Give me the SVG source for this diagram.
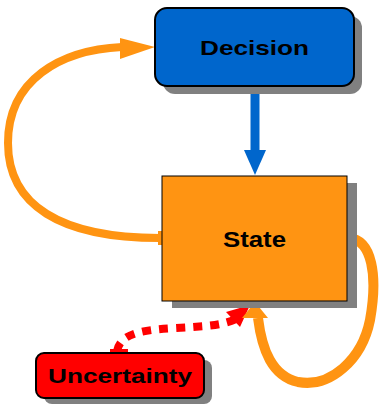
<svg xmlns="http://www.w3.org/2000/svg" width="379" height="404" viewBox="0 0 379 404">
<style>
.lbl{font-family:"Liberation Sans",Arial,sans-serif;font-weight:bold;fill:#000;text-anchor:middle}
.shadow{fill:#808080}
.orange{fill:none;stroke:#FF9412;stroke-width:8}
</style>
<rect width="379" height="404" fill="#fff"/>
<g id="connectors">
  <!-- Decision -> State -->
  <rect x="244" y="86" width="22" height="3" fill="#0066CC"/>
  <line x1="255" y1="86" x2="255" y2="152" stroke="#0066CC" stroke-width="9"/>
  <path d="M244 150L266 150L255 175Z" fill="#0066CC"/>
  <!-- State -> Decision (left loop) -->
  <rect x="158" y="231" width="4" height="14" fill="#FF9412"/>
  <path class="orange" d="M160 238C60 238 8 205 8 143C8 80 60 50 122 47"/>
  <path d="M120 38L155 47L120 59Z" fill="#FF9412"/>
  <!-- Uncertainty -> State (red dotted) -->
  <rect x="110" y="349" width="18" height="4" fill="#FF0000"/>
  <path d="M117 351C120 336 135 330 175 328C210 326 225 325 238 318" fill="none" stroke="#FF0000" stroke-width="8" stroke-dasharray="9 8"/>
  <path d="M226 312L250 305L240 327Z" fill="#FF0000"/>
  <!-- State self loop -->
  <rect x="347" y="231" width="4" height="14" fill="#FF9412"/>
  <path fill="none" stroke="#FF9412" stroke-width="10" d="M349 238C372 240 378 275 370 320C362 360 330 388 298 382C272 376 262 350 258 318"/>
  <path d="M242 318L255 302L268 318Z" fill="#FF9412"/>
</g>
<g id="decision">
  <rect class="shadow" x="163" y="16" width="199" height="78" rx="12"/>
  <rect x="155" y="8" width="199" height="78" rx="12" fill="#0066CC" stroke="#000" stroke-width="2"/>
  <text class="lbl" x="254.5" y="55" font-size="21" textLength="109" lengthAdjust="spacingAndGlyphs">Decision</text>
</g>
<g id="state">
  <rect class="shadow" x="172" y="183" width="185" height="125"/>
  <rect x="162" y="176" width="185" height="125" fill="#FF9412" stroke="#000" stroke-width="1"/>
  <text class="lbl" x="254.5" y="247" font-size="22" textLength="63" lengthAdjust="spacingAndGlyphs">State</text>
</g>
<g id="uncertainty">
  <rect class="shadow" x="44" y="360" width="168" height="44" rx="8"/>
  <rect x="36" y="353" width="168" height="45" rx="8" fill="#FF0000" stroke="#000" stroke-width="2"/>
  <text class="lbl" x="120" y="383" font-size="21" textLength="144" lengthAdjust="spacingAndGlyphs">Uncertainty</text>
</g>
</svg>
